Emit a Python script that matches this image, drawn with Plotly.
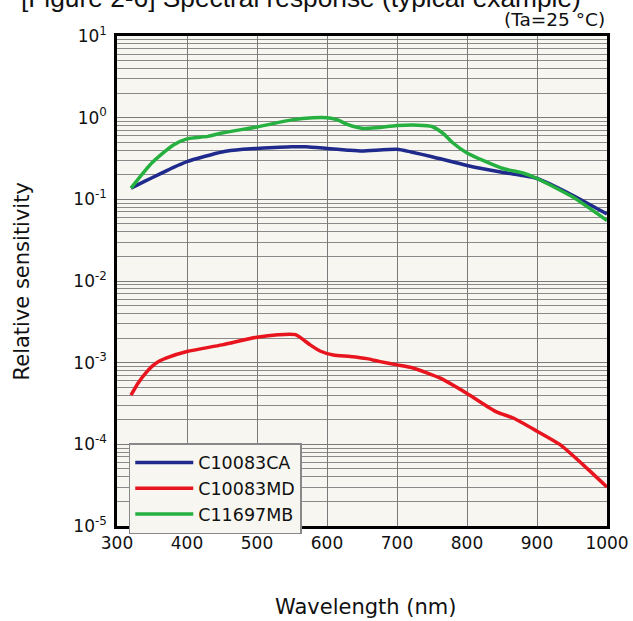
import plotly.graph_objects as go

# ---- data ----
wl_ca = [320, 340, 360, 380, 400, 450, 480, 500, 550, 570, 600, 630, 650, 700, 720, 750, 800, 850, 880, 900, 950, 1000]
sens_ca = [0.137, 0.167, 0.202, 0.245, 0.29, 0.38, 0.41, 0.42, 0.44, 0.44, 0.42, 0.40, 0.39, 0.41, 0.38, 0.333, 0.26, 0.215, 0.195, 0.18, 0.113, 0.066]

wl_md = [320, 330, 340, 350, 360, 370, 400, 450, 500, 530, 555, 576, 590, 609, 633, 657, 676, 700, 723, 761, 800, 842, 866, 900, 933, 966, 1000]
sens_md = [4.0e-4, 5.6e-4, 7.3e-4, 9.0e-4, 1.04e-3, 1.14e-3, 1.37e-3, 1.65e-3, 2.05e-3, 2.2e-3, 2.2e-3, 1.65e-3, 1.39e-3, 1.24e-3,
           1.19e-3, 1.12e-3, 1.03e-3, 9.4e-4, 8.6e-4, 6.5e-4, 4.2e-4, 2.5e-4, 2.1e-4, 1.45e-4, 9.9e-5, 5.6e-5, 3.0e-5]

wl_mb = [320, 350, 380, 400, 430, 450, 500, 550, 580, 600, 615, 630, 650, 670, 700, 730, 750, 766, 780, 800, 850, 880, 900, 950, 1000]
sens_mb = [0.137, 0.28, 0.46, 0.55, 0.59, 0.65, 0.77, 0.94, 1.0, 1.0, 0.94, 0.82, 0.74, 0.75, 0.80, 0.81, 0.78, 0.64,
           0.49, 0.37, 0.24, 0.21, 0.18, 0.108, 0.055]

series_names = ["C10083CA", "C10083MD", "C11697MB"]
series_colors = ["#1f2a8c", "#e8141e", "#26b040"]

x_ticks = [300, 400, 500, 600, 700, 800, 900, 1000]
y_exps = [-5, -4, -3, -2, -1, 0, 1]

# ---- figure ----
fig = go.Figure()
for wl, s, name, col in zip([wl_ca, wl_md, wl_mb], [sens_ca, sens_md, sens_mb], series_names, series_colors):
    fig.add_trace(go.Scatter(x=wl, y=s, mode="lines", name=name,
                             line=dict(color=col, width=3.5, shape="spline", smoothing=0.6)))

minor_vals = [m * 10 ** e for e in y_exps[:-1] for m in range(2, 10)]

fig.update_layout(
    width=633, height=621,
    margin=dict(l=117, r=26, t=36, b=95),
    paper_bgcolor="white",
    plot_bgcolor="#f7f6f0",
    font=dict(family="DejaVu Sans", size=17, color="#111"),
    showlegend=True,
    legend=dict(x=0.024, y=0.169, xanchor="left", yanchor="top",
                bgcolor="#f7f6f0", bordercolor="#888", borderwidth=1.5,
                font=dict(family="DejaVu Sans", size=17.5, color="#111"),
                itemwidth=58, tracegroupgap=0),
    xaxis=dict(range=[300, 1000], tickvals=x_ticks, ticktext=[str(v) for v in x_ticks],
               showgrid=True, gridcolor="#7a7a7a", gridwidth=1,
               showline=True, linecolor="black", linewidth=2.5, mirror=True,
               ticks="", zeroline=False, automargin=False),
    yaxis=dict(type="log", range=[-5, 1],
               tickvals=[10 ** e for e in y_exps],
               ticktext=["10<sup>%d</sup>" % e for e in y_exps],
               showgrid=True, gridcolor="#7a7a7a", gridwidth=1,
               minor=dict(tickvals=minor_vals, showgrid=True, gridcolor="#8a8a8a", gridwidth=1, ticks=""),
               showline=True, linecolor="black", linewidth=2.5, mirror=True,
               ticks="", ticklabelstandoff=4, zeroline=False, automargin=False),
)

fig.add_annotation(text="[Figure 2-6] Spectral response (typical example)", xref="paper", yref="paper",
                   x=0.3755, y=1.078, xanchor="center", yanchor="middle", showarrow=False,
                   font=dict(family="Liberation Sans", size=26.3, color="#111"))
fig.add_annotation(text="(Ta=25 °C)", xref="paper", yref="paper",
                   x=1.0, y=1.033, xanchor="right", yanchor="middle", showarrow=False,
                   font=dict(family="DejaVu Sans", size=18.5, color="#111"))
fig.add_annotation(text="Wavelength (nm)", xref="paper", yref="paper",
                   x=0.508, y=-0.165, xanchor="center", yanchor="middle", showarrow=False,
                   font=dict(family="DejaVu Sans", size=21, color="#111"))
fig.add_annotation(text="Relative sensitivity", xref="paper", yref="paper",
                   x=-0.193, y=0.50, xanchor="center", yanchor="middle", showarrow=False, textangle=-90,
                   font=dict(family="DejaVu Sans", size=21, color="#111"))

fig.write_html("out.html", config={"displayModeBar": False},
               post_script="document.body.style.margin='0';")
